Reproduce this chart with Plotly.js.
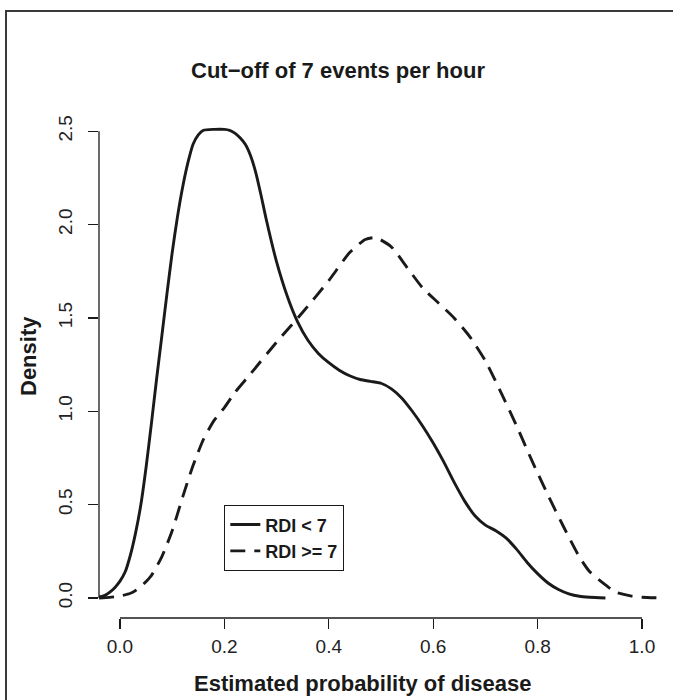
<!DOCTYPE html>
<html>
<head>
<meta charset="utf-8">
<script src="https://cdn.plot.ly/plotly-3.0.1.min.js"></script>
<style>
  html, body { margin: 0; padding: 0; background: #fff; }
  #wrap { position: relative; width: 673px; height: 700px; overflow: hidden; }
  #chart { width: 673px; height: 700px; }
  #frame { position: absolute; left: 5px; top: 10px; width: 800px; height: 800px;
           border-left: 2px solid #3a3a3a; border-top: 2px solid #3a3a3a; pointer-events: none; }
</style>
</head>
<body>
<div id="wrap"><div id="chart"></div><div id="frame"></div></div>
<script>
// ---- data ----
const seriesNames = ["RDI < 7", "RDI >= 7"];

const xLow = [-0.04,-0.03,-0.02,-0.01,0.0,0.01,0.02,0.03,0.04,0.05,0.06,0.07,0.08,0.09,0.10,0.11,0.12,0.13,0.14,0.15,0.16,0.18,0.20,0.21,0.22,0.23,0.24,0.25,0.26,0.27,0.28,0.30,0.32,0.34,0.36,0.38,0.40,0.42,0.44,0.46,0.48,0.50,0.52,0.54,0.56,0.58,0.60,0.62,0.64,0.66,0.68,0.70,0.72,0.74,0.76,0.78,0.80,0.82,0.84,0.86,0.88,0.90,0.93];
const yLow = [0.005,0.012,0.03,0.055,0.09,0.14,0.23,0.35,0.5,0.7,0.93,1.17,1.4,1.63,1.85,2.04,2.2,2.33,2.43,2.48,2.505,2.51,2.51,2.505,2.49,2.465,2.43,2.37,2.28,2.16,2.03,1.8,1.62,1.48,1.38,1.31,1.26,1.22,1.19,1.17,1.16,1.15,1.12,1.07,1.0,0.92,0.83,0.73,0.62,0.52,0.44,0.39,0.36,0.32,0.26,0.19,0.13,0.08,0.045,0.022,0.009,0.004,0.0];

const xHigh = [-0.04,-0.02,0.0,0.02,0.03,0.04,0.06,0.08,0.10,0.12,0.14,0.16,0.18,0.20,0.22,0.25,0.30,0.35,0.40,0.44,0.47,0.49,0.52,0.55,0.58,0.61,0.64,0.67,0.70,0.73,0.76,0.79,0.82,0.85,0.88,0.90,0.93,0.95,0.98,1.00,1.04];
const yHigh = [0.0,0.003,0.01,0.025,0.04,0.06,0.12,0.22,0.36,0.54,0.71,0.85,0.95,1.02,1.1,1.2,1.37,1.53,1.70,1.85,1.92,1.93,1.88,1.77,1.66,1.58,1.5,1.40,1.27,1.1,0.92,0.73,0.55,0.38,0.22,0.14,0.07,0.03,0.01,0.004,0.0];

const xTickVals = [0, 0.2, 0.4, 0.6, 0.8, 1.0];
const xTickText = ["0.0", "0.2", "0.4", "0.6", "0.8", "1.0"];
const yTickVals = [0, 0.5, 1.0, 1.5, 2.0, 2.5];
const yTickText = ["0.0", "0.5", "1.0", "1.5", "2.0", "2.5"];

const titleText = "Cut\u2212off of 7 events per hour";
const xTitle = "Estimated probability of disease";
const yTitle = "Density";

// ---- chart ----
const FONT = '"Liberation Sans Narrow", "Arial Narrow", "Liberation Sans", Arial, sans-serif';
const INK = "#1a1a1a";

const traces = [
  { x: xLow, y: yLow, name: seriesNames[0], type: "scatter", mode: "lines",
    line: { color: INK, width: 2.9, shape: "spline", smoothing: 0.6 } },
  { x: xHigh, y: yHigh, name: seriesNames[1], type: "scatter", mode: "lines",
    line: { color: INK, width: 2.9, dash: "15px,9px", shape: "spline", smoothing: 0.6 } }
];

const layout = {
  width: 673, height: 700,
  margin: { l: 99, r: 0, t: 112, b: 82, pad: 0 },
  paper_bgcolor: "#fff", plot_bgcolor: "#fff",
  font: { family: FONT, color: INK, size: 19 },
  title: { text: titleText, font: { family: FONT, size: 22, weight: "bold", color: INK },
           xref: "container", yref: "container", x: 338 / 673, y: 1 - 70 / 700,
           xanchor: "center", yanchor: "middle" },
  xaxis: { range: [-0.0402, 1.0594], showgrid: false, zeroline: false, showline: false,
           tickmode: "array", tickvals: xTickVals, ticktext: xTickText,
           ticks: "outside", ticklen: 10, tickwidth: 1.3, tickcolor: INK,
           ticklabelstandoff: 1,
           tickfont: { family: FONT, size: 19, color: "#222" } },
  yaxis: { range: [-0.1075, 2.603], showgrid: false, zeroline: false, showline: false,
           tickmode: "array", tickvals: yTickVals, ticktext: yTickText,
           ticks: "outside", ticklen: 10, tickwidth: 1.3, tickcolor: INK,
           tickangle: -90, ticklabelstandoff: 8,
           tickfont: { family: FONT, size: 19, color: "#222" } },
  showlegend: true,
  legend: { x: (224 - 99) / 574, y: (618 - 505) / 506, xanchor: "left", yanchor: "top",
            bgcolor: "#fff", bordercolor: INK, borderwidth: 1.3,
            font: { family: FONT, size: 18, weight: "bold", color: INK },
            itemwidth: 30, tracegroupgap: 0 },
  shapes: [
    { type: "line", xref: "x", yref: "paper", x0: xTickVals[0], x1: xTickVals[xTickVals.length - 1], y0: 0, y1: 0,
      line: { color: INK, width: 1.3 } },
    { type: "line", xref: "paper", yref: "y", x0: 0, x1: 0, y0: yTickVals[0], y1: yTickVals[yTickVals.length - 1],
      line: { color: INK, width: 1.3 } }
  ],
  annotations: [
    { text: xTitle, xref: "paper", yref: "paper", x: (362 - 99) / 574, y: (618 - 683) / 506,
      xanchor: "center", yanchor: "middle", showarrow: false,
      font: { family: FONT, size: 22, weight: "bold", color: INK } },
    { text: yTitle, xref: "paper", yref: "paper", x: (28 - 99) / 574, y: (618 - 356) / 506,
      xanchor: "center", yanchor: "middle", showarrow: false, textangle: -90,
      font: { family: FONT, size: 22, weight: "bold", color: INK } }
  ]
};

Plotly.newPlot("chart", traces, layout, { staticPlot: true, displayModeBar: false });
</script>
</body>
</html>
